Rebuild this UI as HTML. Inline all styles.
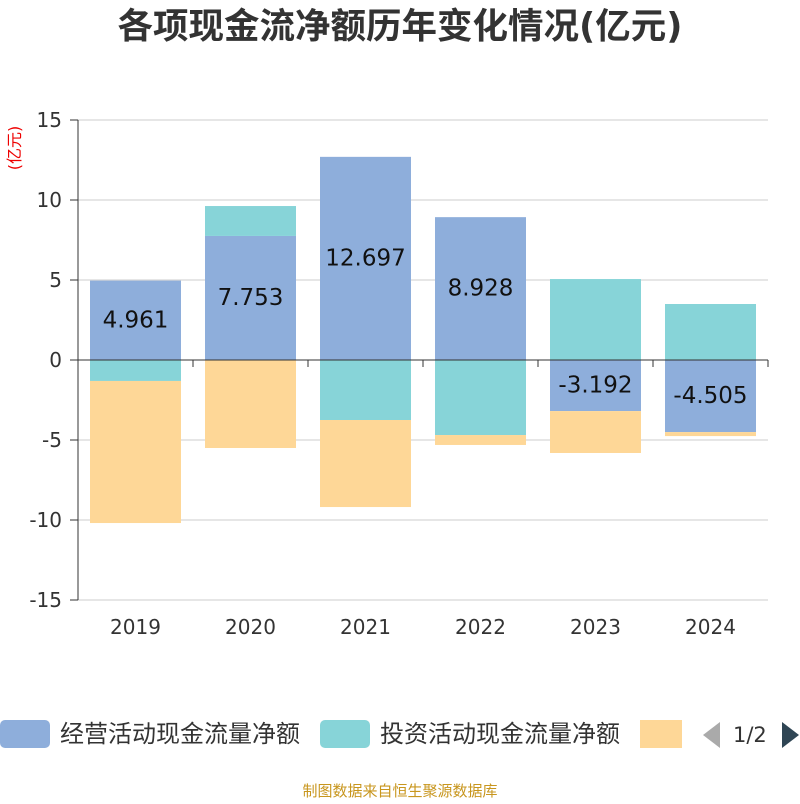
<!DOCTYPE html>
<html><head><meta charset="utf-8"><style>
body{margin:0;background:#fff;width:800px;height:800px;overflow:hidden;font-family:"DejaVu Sans","Noto Sans CJK SC",sans-serif}
</style></head><body>
<svg id="c" width="800" height="800" xmlns="http://www.w3.org/2000/svg" font-family="DejaVu Sans, Noto Sans CJK SC, sans-serif">
<text x="400" y="38" text-anchor="middle" font-size="35.5" font-weight="bold" fill="#333">各项现金流净额历年变化情况(亿元)</text>
<text transform="translate(20,148) rotate(-90)" text-anchor="middle" font-size="16" fill="#e00">(亿元)</text>
<g id="grid"></g><g id="bars"></g><g id="axes"></g><g id="labels"></g>
<rect x="0" y="720" width="50" height="28" rx="5" fill="#8eaedb"/>
<text x="60" y="742" font-size="24" fill="#333">经营活动现金流量净额</text>
<rect x="320" y="720" width="50" height="28" rx="5" fill="#87d4d8"/>
<text x="380" y="742" font-size="24" fill="#333">投资活动现金流量净额</text>
<rect x="640" y="720" width="42" height="28" fill="#fed797"/>
<polygon points="720,722 720,748 703,735" fill="#aaa"/>
<text x="733" y="742" font-size="21" fill="#333">1/2</text>
<polygon points="782,722 782,748 799,735" fill="#2f4554"/>
<text x="400" y="796" text-anchor="middle" font-size="15" fill="#c8961e">制图数据来自恒生聚源数据库</text>
</svg>
<script>
const categories=["2019","2020","2021","2022","2023","2024"];
const operating=[4.961,7.753,12.697,8.928,-3.192,-4.505];
const investing=[-1.31,1.87,-3.75,-4.69,5.06,3.5];
const financing=[-8.88,-5.5,-5.44,-0.62,-2.62,-0.25];
const yTicks=[15,10,5,0,-5,-10,-15];
const NS="http://www.w3.org/2000/svg";
const L=78,R=768,T=120,B=600,yMax=15,yMin=-15;
const y=v=>T+(yMax-v)/(yMax-yMin)*(B-T);
const band=(R-L)/categories.length;
const xc=i=>L+band*(i+0.5);
function mk(tag,attrs,parent){const e=document.createElementNS(NS,tag);for(const k in attrs)e.setAttribute(k,attrs[k]);document.getElementById(parent).appendChild(e);return e;}
yTicks.forEach(t=>{
  const g=mk('line',{x1:L,x2:R,y1:y(t),y2:y(t),stroke:'#ccc','stroke-width':1},'grid');
  
  
  const tk=mk('line',{x1:L-8,x2:L,y1:y(t),y2:y(t),stroke:'#333'},'axes');
  
  
  const tx=mk('text',{x:L-16,y:y(t)+7,'text-anchor':'end','font-size':20,fill:'#333'},'labels');
  tx.textContent=t;
  
  
});
const series=[[operating,'#8eaedb','operating'],[investing,'#87d4d8','investing'],[financing,'#fed797','financing']];
const pos=categories.map(()=>0),neg=categories.map(()=>0);
series.forEach(([vals,col,nm])=>{
  vals.forEach((v,i)=>{
    let a,b;
    if(v>=0){a=pos[i];b=pos[i]+v;pos[i]=b;}else{a=neg[i];b=neg[i]+v;neg[i]=b;}
    const r=mk('rect',{x:xc(i)-45.5,width:91,y:Math.min(y(a),y(b)),height:Math.abs(y(a)-y(b)),fill:col},'bars');
    
    
  });
});
operating.forEach((v,i)=>{
  const t=mk('text',{x:xc(i),y:y(v/2)+7,'text-anchor':'middle','font-size':23,fill:'#111'},'labels');
  t.textContent=v.toFixed(3);
  
  
});
const ya=mk('line',{x1:L,x2:L,y1:T,y2:B,stroke:'#333'},'axes');


const xa=mk('line',{x1:L,x2:R,y1:y(0),y2:y(0),stroke:'#333'},'axes');


for(let i=0;i<=categories.length;i++){
  const tk=mk('line',{x1:L+band*i,x2:L+band*i,y1:y(0),y2:y(0)+7,stroke:'#333'},'axes');
  
  
}
categories.forEach((c,i)=>{
  const t=mk('text',{x:xc(i),y:634,'text-anchor':'middle','font-size':20,fill:'#333'},'labels');
  t.textContent=c;
  
  
});
</script>
</body></html>
